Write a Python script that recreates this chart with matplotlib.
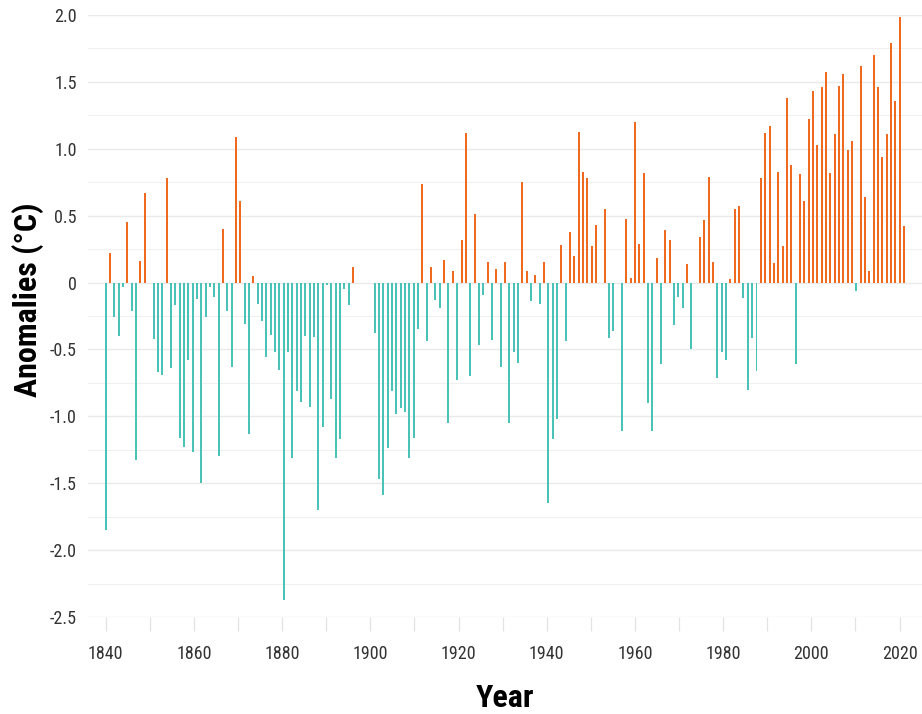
import numpy as np
import matplotlib
matplotlib.use("Agg")
import matplotlib.pyplot as plt
from matplotlib import font_manager as fm
from matplotlib.ticker import FixedLocator, MultipleLocator

# ---------------- data ----------------
# the reference draws 185 evenly spaced bars (gaps = missing values) under a
# year axis running from 1840 (first bar) to 2021 (last bar)
first_year, last_year = 1840, 2021

anom_block_a = [-1.85, 0.22, -0.26, -0.40, -0.03, 0.45, -0.21, -1.33, 0.16, 0.67,
                0.00, -0.42, -0.67, -0.69, 0.78, -0.64, -0.17, -1.16, -1.23, -0.58,
                -1.27, -0.125, -1.50, -0.256, -0.035, -0.105, -1.30, 0.40, -0.21, -0.63,
                1.087, 0.61, -0.31, -1.13, 0.047, -0.157, -0.29, -0.56, -0.39, -0.52,
                -0.65, -2.37]
anom_block_b = [-0.52, -1.31, -0.81, -0.89, -0.40, -0.93, -0.41, -1.70, -1.08, -0.015,
                -0.87, -1.31, -1.17, -0.05, -0.17, 0.116, 0.00, 0.00, 0.00, 0.00,
                -0.38]
anom_block_c = [-1.47, -1.59, -1.235, -0.81, -0.98, -0.94, -0.97, -1.31, -1.16, -0.35,
                0.74, -0.44, 0.12, -0.13, -0.19, 0.17, -1.05, 0.087, -0.73, 0.32,
                1.12, -0.70, 0.51, -0.47, -0.09, 0.15, -0.43, 0.10, -0.63, 0.15,
                -1.05, -0.52, -0.60, 0.75, 0.084, -0.14, 0.06, -0.157, 0.157, -1.645]
anom_block_d = [-1.17, -1.02, 0.28, -0.44, 0.38, 0.20, 1.125, 0.83, 0.785, 0.27,
                0.43, 0.00, 0.55, -0.415, -0.36, 0.00, -1.11, 0.477, 0.035, 1.20]
anom_block_e = [0.285, 0.82, -0.90, -1.11, 0.18, -0.61, 0.39, 0.32, -0.32, -0.105,
                -0.19, 0.14, -0.50, 0.00, 0.34, 0.47, 0.79, 0.154, -0.715, -0.52,
                -0.58, 0.023, 0.55, 0.57, -0.116, -0.80, -0.415, -0.66]
anom_block_f = [0.78, 1.116, 1.17, 0.145, 0.83, 0.27, 1.38, 0.88, -0.61, 0.81,
                0.61, 1.22, 1.43, 1.03, 1.46, 1.575, 0.82]
anom_block_g = [1.11, 1.47, 1.56, 0.99, 1.06, -0.064, 1.62, 0.64, 0.09, 1.70,
                1.465, 0.94, 1.11, 1.79, 1.36, 1.985, 0.42]

anomalies = np.array(anom_block_a + anom_block_b + anom_block_c + anom_block_d
                     + anom_block_e + anom_block_f + anom_block_g)

y_tick_values = [2.0, 1.5, 1.0, 0.5, 0.0, -0.5, -1.0, -1.5, -2.0, -2.5]
y_tick_labels = ["2.0", "1.5", "1.0", "0.5", "0", "-0.5", "-1.0", "-1.5", "-2.0", "-2.5"]
x_label_years = [1840, 1860, 1880, 1900, 1920, 1940, 1960, 1980, 2000, 2020]
x_label_texts = [str(y) for y in x_label_years]

x_title = "Year"
y_title = "Anomalies (°C)"

# ---------------- fonts ----------------
COND = ("extra-condensed", "condensed", "semi-condensed", "ultra-condensed")
ORDER = ["Roboto Condensed", "Open Sans Condensed", "Noto Sans Condensed",
         "Liberation Sans Narrow", "Roboto", "Open Sans", "Noto Sans", "Lato",
         "Inter", "DejaVu Sans"]


def _wnum(w):
    if isinstance(w, (int, float)):
        return float(w)
    return float(fm.weight_dict.get(str(w).lower(), 400))


def pick_font(target_weight):
    best, best_score = None, None
    for f in fm.fontManager.ttflist:
        narrow = (f.stretch in COND) or ("Condensed" in f.name) or ("Narrow" in f.name)
        if not narrow or f.style != "normal":
            continue
        rank = len(ORDER)
        for i, n in enumerate(ORDER):
            if f.name.startswith(n):
                rank = i
                break
        if rank == len(ORDER):
            continue
        stretch_pen = 0 if f.stretch in ("condensed", "semi-condensed") else 2
        if "Extra" in f.name or "Ultra" in f.name or "Semi" in f.name:
            stretch_pen += 2
        score = (abs(_wnum(f.weight) - target_weight) / 100.0) * 3 + rank + stretch_pen
        if best_score is None or score < best_score:
            best, best_score = f.fname, score
    if best is None:
        return fm.FontProperties(family="DejaVu Sans",
                                 weight="bold" if target_weight >= 600 else "normal")
    return fm.FontProperties(fname=best)


fp_reg = pick_font(400)
fp_bold = pick_font(700)

# ---------------- figure ----------------
W, H = 922, 714
fig = plt.figure(figsize=(W / 100, H / 100), dpi=100)
fig.patch.set_facecolor("white")

left_px, right_px, top_px, bottom_px = 88, 922, 15, 617
ax = fig.add_axes([left_px / W, 1 - bottom_px / H,
                   (right_px - left_px) / W, (bottom_px - top_px) / H])
ax.set_facecolor("white")

n = len(anomalies)
idx = np.arange(n)
orange = "#EE6A1E"
teal = "#4BC2B8"
colors = [orange if v >= 0 else teal for v in anomalies]
ax.bar(idx, anomalies, width=0.46, color=colors, linewidth=0, zorder=3)

# index axis limits (first bar at 1840 tick, last bar at 2021)
ax.set_xlim(-4.10, 188.15)
ax.set_ylim(-2.5, 2.0)

for s in ax.spines.values():
    s.set_visible(False)

ax.yaxis.set_major_locator(FixedLocator(y_tick_values))
ax.set_yticklabels(y_tick_labels)
ax.yaxis.set_minor_locator(MultipleLocator(0.25))
ax.grid(axis="y", which="major", color="#EAEAEA", linewidth=1.0, zorder=0)
ax.grid(axis="y", which="minor", color="#F0F0F0", linewidth=0.8, zorder=0)
ax.grid(axis="x", which="both", visible=False)
ax.set_axisbelow(True)
ax.set_xticks([])
ax.tick_params(axis="y", which="both", length=0, pad=8, labelcolor="#333333")
for lab in ax.get_yticklabels():
    lab.set_fontproperties(fp_reg)
    lab.set_fontsize(13)

# year axis sharing the same horizontal extent
step = (last_year - first_year) / (n - 1)


def idx_to_year(x):
    return first_year + np.asarray(x) * step


def year_to_idx(y):
    return (np.asarray(y) - first_year) / step


sec = ax.secondary_xaxis("bottom", functions=(idx_to_year, year_to_idx))
sec.spines["bottom"].set_visible(False)
sec.xaxis.set_major_locator(FixedLocator(x_label_years))
sec.set_xticklabels(x_label_texts)
sec.xaxis.set_minor_locator(MultipleLocator(10))
sec.tick_params(axis="x", which="both", length=10, width=0.9, color="#E3E3E3",
                direction="out", pad=10, labelcolor="#333333")
for lab in sec.get_xticklabels():
    lab.set_fontproperties(fp_reg)
    lab.set_fontsize(13)

fig.text(505 / W, 1 - 698 / H, x_title, ha="center", va="center",
         fontproperties=fp_bold, fontsize=23, color="black")
fig.text(28 / W, 1 - 300 / H, y_title, ha="center", va="center", rotation=90,
         fontproperties=fp_bold, fontsize=23, color="black")

fig.savefig("out.png", dpi=100, facecolor="white")
